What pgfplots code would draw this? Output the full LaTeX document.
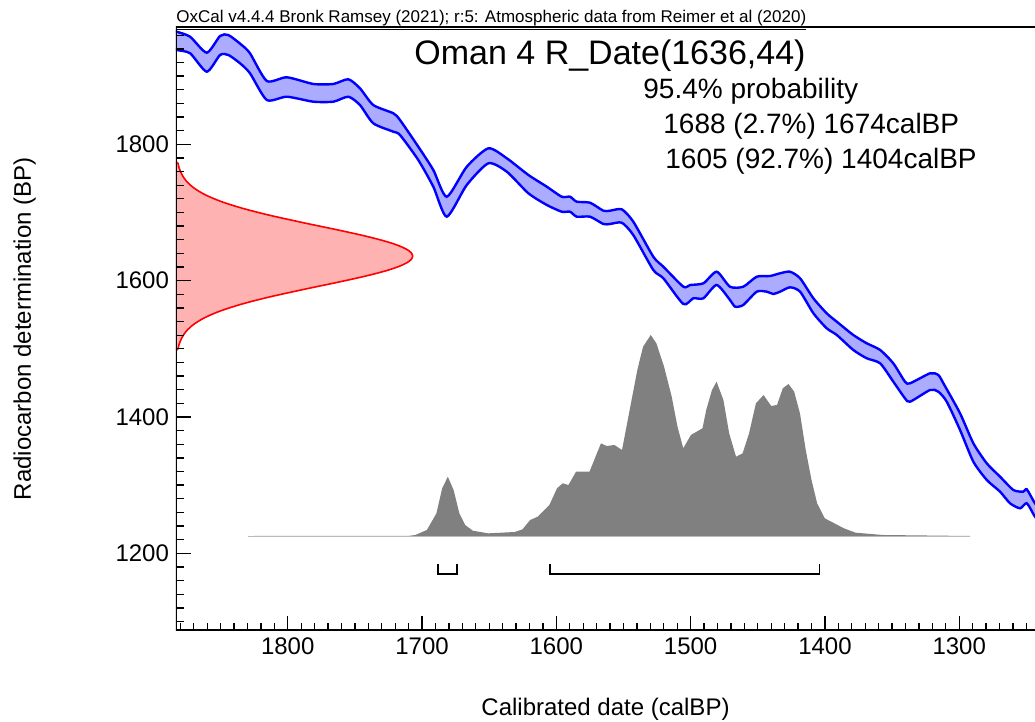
\documentclass[border=0pt]{standalone}
\usepackage{fontspec}
\setmainfont{Liberation Sans}
\usepackage{pgfplots}
\pgfplotsset{compat=1.18}
\usepgfplotslibrary{fillbetween}

\begin{document}
\begin{tikzpicture}
\begin{axis}[
  at={(0,0)}, anchor=south west,
  scale only axis, width=429.5pt, height=302pt,
  x dir=reverse,
  xmin=1243.6, xmax=1883.2, ymin=1086.5, ymax=1972.5,
  axis line style={draw=none},
  xtick pos=left, ytick pos=left,
  xtick={1300,1400,...,1800}, ytick={1200,1400,1600,1800},
  minor xtick={1250,1260,...,1880}, minor ytick={1100,1120,...,1960},
  tick align=inside,
  major tick length=7.5pt, minor tick length=4pt,
  every tick/.style={black, line width=0.65pt},
  tick label style={font=\fontsize{12}{14}\selectfont, black},
  /pgf/number format/assume math mode=true,
  /pgf/number format/1000 sep={},
  axis on top,
]
% calibration curve, upper and lower edge
\addplot[name path=up, blue, line width=1.2pt, smooth, tension=0.4] coordinates {
(1886,1968) (1882.7,1965.2) (1872.7,1957.8) (1860.3,1934.4) (1850.4,1958.9)
(1844.2,1960.3) (1834.3,1945.7) (1828.1,1933.5) (1815.6,1892.9) (1800.7,1898.3)
(1780.9,1888.5) (1766.0,1888.5) (1754.9,1895.4) (1746.2,1882.1) (1736.3,1857.6)
(1721.4,1845.5) (1716.4,1835.6) (1702.8,1796.5) (1691.6,1762.3) (1681.6,1723.1)
(1666.7,1767.1) (1650.6,1794.1) (1636.9,1779.5) (1620.8,1755.0) (1607.1,1737.8)
(1596.0,1723.1) (1589.8,1723.1) (1584.8,1715.8) (1574.9,1714.3) (1565.0,1702.6)
(1560.0,1702.6) (1551.3,1704.6) (1542.7,1686.5) (1527.8,1635.1) (1520.3,1620.4)
(1505.4,1591.1) (1500.4,1593.6) (1490.5,1596.1) (1480.6,1613.1) (1470.7,1591.1)
(1460.8,1591.1) (1450.8,1605.8) (1440.9,1606.8) (1433.4,1610.8) (1426.0,1613.1)
(1418.5,1603.4) (1408.6,1574.1) (1398.7,1552.1) (1391.2,1539.8) (1378.9,1520.3)
(1368.9,1508.1) (1358.9,1498.3) (1349.1,1478.7) (1340.4,1451.8) (1336.6,1449.4)
(1321.7,1464.1) (1315.6,1461.6) (1311.8,1449.4) (1299.4,1405.4) (1289.5,1361.4)
(1279.5,1332.0) (1269.6,1312.4) (1259.7,1292.9) (1252.3,1290.4) (1249.7,1293.9)
(1243.6,1273.4) (1238,1262)};
\addplot[name path=lo, blue, line width=1.2pt, smooth, tension=0.4] coordinates {
(1886,1941) (1882.7,1938.3) (1872.7,1933.5) (1860.3,1906.5) (1850.4,1931.0)
(1844.2,1931.0) (1835.5,1918.8) (1828.1,1904.2) (1815.6,1865.0) (1800.7,1869.8)
(1780.9,1862.5) (1766.0,1862.5) (1754.9,1869.8) (1746.2,1857.6) (1736.3,1830.8)
(1721.4,1818.5) (1716.4,1813.6) (1702.8,1777.0) (1691.6,1737.8) (1681.6,1693.8)
(1666.7,1740.3) (1650.6,1772.1) (1636.9,1759.8) (1620.8,1728.1) (1607.1,1711.0)
(1596.0,1701.1) (1589.8,1701.1) (1584.8,1693.8) (1574.9,1693.8) (1565.0,1683.1)
(1560.0,1683.1) (1551.3,1685.0) (1542.7,1666.9) (1527.8,1615.6) (1520.3,1603.4)
(1505.4,1565.7) (1498.0,1574.1) (1490.5,1574.1) (1480.6,1593.6) (1470.7,1571.6)
(1466.9,1561.8) (1460.8,1564.3) (1450.8,1583.8) (1443.3,1583.8) (1438.4,1580.4)
(1433.4,1583.8) (1426.0,1590.2) (1418.5,1583.8) (1408.6,1552.1) (1398.7,1530.1)
(1391.2,1520.3) (1378.9,1498.3) (1368.9,1486.1) (1358.9,1478.7) (1349.1,1451.8)
(1340.4,1427.4) (1336.6,1422.4) (1321.7,1439.6) (1315.6,1437.1) (1309.3,1422.4)
(1299.4,1380.9) (1289.5,1334.4) (1279.5,1307.6) (1269.6,1290.4) (1262.2,1273.4)
(1254.7,1266.0) (1249.7,1273.4) (1243.6,1253.7) (1238,1242)};
\addplot[fill=blue!33, draw=none] fill between[of=up and lo];

% radiocarbon date 1636 +/- 44
\addplot[draw=red, line width=0.8pt, fill=red!30, smooth] coordinates {
(1883.2,1498) (1881.7,1500) (1881.0,1506) (1878.9,1516) (1875.5,1526)
(1869.9,1536) (1861.5,1546) (1849.5,1556) (1833.5,1566) (1813.7,1576)
(1790.8,1586) (1778.8,1591) (1766.6,1596) (1754.8,1601) (1743.5,1606)
(1733.3,1611) (1724.3,1616) (1717.0,1621) (1711.5,1626) (1708.1,1631)
(1707.0,1636) (1708.1,1641) (1711.5,1646) (1717.0,1651) (1724.3,1656)
(1733.3,1661) (1743.5,1666) (1754.8,1671) (1766.6,1676) (1778.8,1681)
(1790.8,1686) (1813.7,1696) (1833.5,1706) (1849.5,1716) (1861.5,1726)
(1869.9,1736) (1875.5,1746) (1878.9,1756) (1881.0,1766) (1881.7,1772)
(1883.2,1774)};

% calibrated distribution
\addplot[draw=none, fill=gray] coordinates {
(1829.6,1225.4) (1710,1225.6) (1705.0,1226.9) (1696.4,1234.2) (1689.3,1258.6)
(1685.0,1295.3) (1680.8,1312.4) (1676.5,1292.9) (1672.2,1258.6) (1667.9,1241.5)
(1662.2,1233.2) (1650.8,1229.3) (1630.9,1231.3) (1625.2,1235.2) (1619.5,1248.9)
(1613.8,1253.8) (1605.2,1270.9) (1599.5,1295.3) (1595.3,1302.7) (1591.0,1300.2)
(1585.3,1319.8) (1575.3,1319.8) (1566.8,1361.3) (1562.5,1357.4) (1556.8,1358.9)
(1551.1,1351.6) (1545.4,1410.2) (1539.7,1468.9) (1535.4,1503.1) (1529.7,1520.3)
(1525.5,1508.0) (1519.8,1473.8) (1514.1,1429.8) (1509.8,1385.8) (1505.5,1354.0)
(1499.8,1373.6) (1491.2,1383.3) (1488.4,1410.2) (1484.1,1439.6) (1480.7,1451.8)
(1475.6,1424.9) (1471.3,1376.0) (1466.2,1341.8) (1461.3,1346.7) (1456.5,1376.0)
(1451.4,1420.0) (1445.7,1432.2) (1440.0,1416.1) (1435.7,1417.6) (1431.4,1442.0)
(1427.1,1448.4) (1422.9,1437.1) (1418.6,1405.3) (1414.3,1351.6) (1410.0,1307.5)
(1405.8,1273.3) (1400.1,1251.3) (1392.9,1243.9) (1385.8,1236.6) (1377.3,1230.3)
(1357.3,1226.9) (1291.8,1225.4)};
\addplot[gray!55, line width=0.5pt] coordinates {(1829.6,1225.4) (1291.8,1225.4)};

% 95.4% ranges
\addplot[black, line width=0.9pt] coordinates {(1688,1185) (1688,1170) (1674,1170) (1674,1185)};
\addplot[black, line width=0.9pt] coordinates {(1605,1185) (1605,1170) (1404,1170) (1404,1185)};

% frame: top, left and bottom (right side is cut off)
\draw[line width=1.4pt, line join=miter] (rel axis cs:1,1) -- (rel axis cs:0,1)
  -- (rel axis cs:0,0) -- (rel axis cs:1,0);
\end{axis}

\begin{scope}[shift={(-88pt,315.35pt)}, x=0.5pt, y=-0.5pt]
\node[anchor=base west, inner sep=0, font=\fontsize{8.5}{10}\selectfont] at (176,23)
  {\underline{OxCal v4.4.4 Bronk Ramsey (2021); r:5: Atmospheric data from Reimer et al (2020)}};
\node[anchor=base west, inner sep=0, font=\fontsize{17}{19}\selectfont] at (414,65) {Oman 4 R\_Date(1636,44)};
\node[anchor=base west, inner sep=0, font=\fontsize{14}{16}\selectfont] at (643,99) {95.4\% probability};
\node[anchor=base west, inner sep=0, font=\fontsize{14}{16}\selectfont] at (663,134) {1688 (2.7\%) 1674calBP};
\node[anchor=base west, inner sep=0, font=\fontsize{14}{16}\selectfont] at (665,169) {1605 (92.7\%) 1404calBP};
\node[anchor=base, inner sep=0, font=\fontsize{12}{14}\selectfont] at (605.5,715.3) {Calibrated date (calBP)};
\node[anchor=base, inner sep=0, rotate=90, font=\fontsize{12}{14}\selectfont] at (31,328.7) {Radiocarbon determination (BP)};
\pgfresetboundingbox
\path[use as bounding box] (0,0) rectangle (1035,722);
\end{scope}
\end{tikzpicture}
\end{document}
